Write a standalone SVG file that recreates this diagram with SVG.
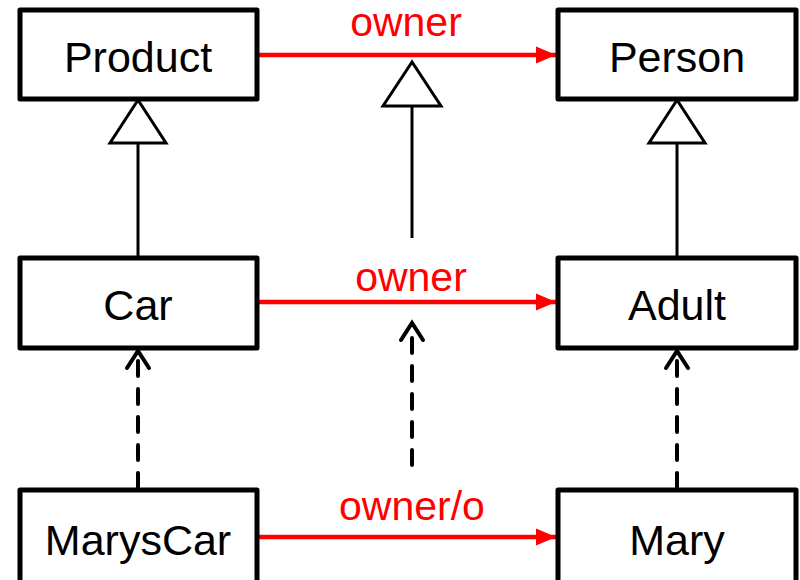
<svg xmlns="http://www.w3.org/2000/svg" width="800" height="580" viewBox="0 0 800 580">
<style>
.box{fill:#fff;stroke:#000;stroke-width:5;stroke-linejoin:round}
.lbl{font-family:"Liberation Sans",Arial,sans-serif;font-size:43px;fill:#000;text-anchor:middle}
.rl{font-family:"Liberation Sans",Arial,sans-serif;font-size:41px;fill:#ff0000;text-anchor:middle}
.assoc{stroke:#ff0000;stroke-width:4.5;fill:none}
.gen{stroke:#000;stroke-width:3;fill:none}
.tri{fill:#fff;stroke:#000;stroke-width:3;stroke-linejoin:miter}
.dash{stroke:#000;stroke-width:4;fill:none;stroke-dasharray:15 13;stroke-linecap:round}
.head{stroke:#000;stroke-width:4;fill:none;stroke-linecap:round;stroke-linejoin:miter}
</style>
<defs>
<marker id="ra" markerWidth="5" markerHeight="5" refX="4.5" refY="2.5" orient="auto" markerUnits="strokeWidth">
<path d="M0,0.6 L4.5,2.5 L0,4.4 Z" fill="#ff0000"/>
</marker>
</defs>
<g id="connectors">
<line class="assoc" x1="257" y1="55" x2="556" y2="55" marker-end="url(#ra)"/>
<line class="assoc" x1="257" y1="302" x2="556" y2="302" marker-end="url(#ra)"/>
<line class="assoc" x1="257" y1="537" x2="556" y2="537" marker-end="url(#ra)"/>
<line class="gen" x1="138" y1="143" x2="138" y2="258"/>
<polygon class="tri" points="138,100 110,143 166,143"/>
<line class="gen" x1="412" y1="106" x2="412" y2="238"/>
<polygon class="tri" points="412,62 383,106 441,106"/>
<line class="gen" x1="677" y1="143" x2="677" y2="258"/>
<polygon class="tri" points="677,100 649,143 705,143"/>
<line class="dash" x1="138" y1="488" x2="138" y2="360"/>
<polyline class="head" points="127,368 138,351 149,368"/>
<line class="dash" x1="412" y1="465" x2="412" y2="335"/>
<polyline class="head" points="401,340 412,323 423,340"/>
<line class="dash" x1="677" y1="488" x2="677" y2="360"/>
<polyline class="head" points="666,368 677,351 688,368"/>
<text class="rl" x="406" y="36">owner</text>
<text class="rl" x="411" y="291">owner</text>
<text class="rl" x="412" y="520">owner/o</text>
</g>
<g id="Product"><rect class="box" x="20" y="10" width="237" height="89"/><text class="lbl" x="138" y="72">Product</text></g>
<g id="Person"><rect class="box" x="558" y="10" width="238" height="89"/><text class="lbl" x="677" y="72">Person</text></g>
<g id="Car"><rect class="box" x="20" y="258" width="237" height="90"/><text class="lbl" x="138" y="320">Car</text></g>
<g id="Adult"><rect class="box" x="558" y="258" width="238" height="90"/><text class="lbl" x="677" y="320">Adult</text></g>
<g id="MarysCar"><rect class="box" x="20" y="490" width="237" height="100"/><text class="lbl" x="138" y="555">MarysCar</text></g>
<g id="Mary"><rect class="box" x="558" y="490" width="238" height="100"/><text class="lbl" x="677" y="555">Mary</text></g>
</svg>
